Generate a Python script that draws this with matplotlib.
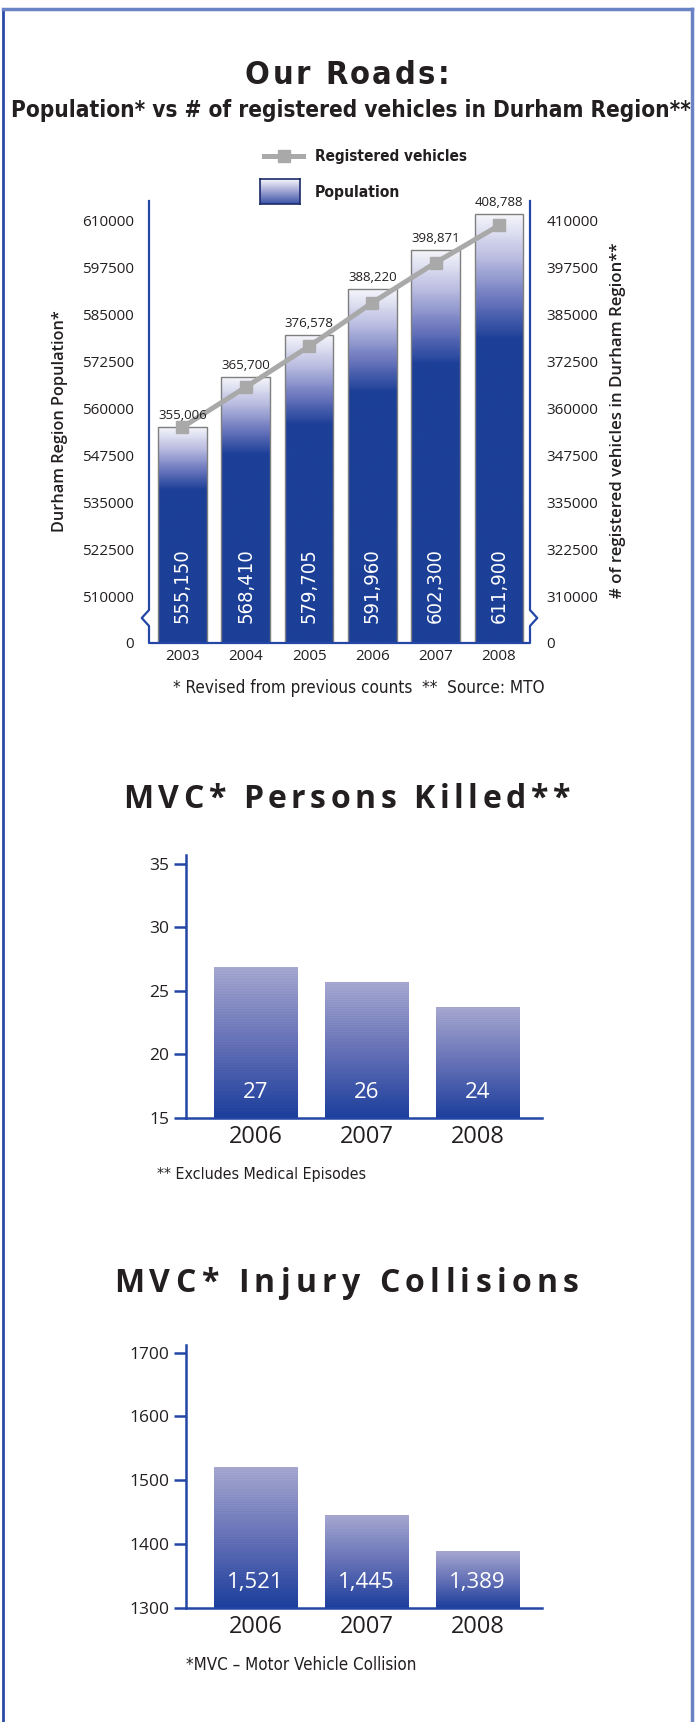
import numpy as np
import matplotlib
matplotlib.use('Agg')
import matplotlib.pyplot as plt
from matplotlib import font_manager as fm
from matplotlib.colors import LinearSegmentedColormap
from matplotlib.lines import Line2D

# ---- data ----
years_pop = ['2003', '2004', '2005', '2006', '2007', '2008']
population = [555150, 568410, 579705, 591960, 602300, 611900]
vehicles = [355006, 365700, 376578, 388220, 398871, 408788]
pop_ticks = [510000, 522500, 535000, 547500, 560000, 572500, 585000, 597500, 610000]
veh_ticks = [310000, 322500, 335000, 347500, 360000, 372500, 385000, 397500, 410000]

years_mvc = ['2006', '2007', '2008']
killed = [27, 26, 24]
killed_bar = [26.9, 25.7, 23.7]
killed_ticks = [15, 20, 25, 30, 35]
injury = [1521, 1445, 1389]
injury_ticks = [1300, 1400, 1500, 1600, 1700]

# ---- fonts ----
SANS = ['Open Sans', 'DejaVu Sans']
plt.rcParams['font.family'] = SANS


def pick_narrow():
    found = {}
    for f in fm.fontManager.ttflist:
        low = f.fname.lower()
        if 'narrow' in low or 'condensed' in low:
            found.setdefault(f.name, f.stretch)
    for name in ['Liberation Sans Narrow', 'DejaVu Sans', 'Roboto Condensed', 'Open Sans']:
        if name in found:
            return dict(family=[name, 'DejaVu Sans'], fontstretch=found[name])
    if found:
        name = sorted(found)[0]
        return dict(family=[name, 'DejaVu Sans'], fontstretch=found[name])
    return dict(family=['Roboto', 'DejaVu Sans'])


NARROW = pick_narrow()

BLUE = '#2446a6'
DARK = '#231f20'
BAR_BLUE = '#1c3f97'
GREY = '#a9a9a9'

W, H = 699, 1722
fig = plt.figure(figsize=(W / 100, H / 100), dpi=100)
R = fig.canvas.get_renderer()


def fx(x):
    return x / W


def fy(y):
    return 1 - y / H


def width_px(s, **kw):
    t = fig.text(0, 0, s, **kw)
    w = t.get_window_extent(renderer=R).width
    t.remove()
    return w


def fit_size(s, target, **kw):
    return 10 * target / width_px(s, fontsize=10, **kw)


def fit_text(s, x0, x1, yc, ha='center', **kw):
    fs = fit_size(s, x1 - x0, **kw)
    x = (x0 + x1) / 2 if ha == 'center' else x0
    fig.text(fx(x), fy(yc), s, fontsize=fs, ha=ha, va='center', color=DARK, **kw)


def vtext(s, length, xc, yc, **kw):
    fs = fit_size(s, length, **kw)
    fig.text(fx(xc), fy(yc), s, fontsize=fs, ha='center', va='center', rotation=90,
             color=DARK, **kw)


def tracked_text(s, x0, x1, ybase, fontsize, min_track=2.0, **kw):
    while True:
        base = width_px('HH', fontsize=fontsize, **kw)
        adv = [width_px('H' + c + 'H', fontsize=fontsize, **kw) - base for c in s]
        track = (x1 - x0 - sum(adv)) / (len(s) - 1)
        if track >= min_track:
            break
        fontsize *= 0.97
    x = x0
    for c, a in zip(s, adv):
        if c != ' ':
            fig.text(fx(x), fy(ybase), c, ha='left', va='baseline', color=DARK,
                     fontsize=fontsize, **kw)
        x += a + track


def gradient_bars(ax, xs, tops, bottom, width, cmap, stripes=False):
    for x, top in zip(xs, tops):
        n = 120
        rgb = cmap(np.linspace(0, 1, n))[:, :3]
        if stripes:
            rgb[::2] *= 0.955
        im = ax.imshow(rgb[:, None, :], extent=(x - width / 2, x + width / 2, bottom, top),
                       origin='upper', aspect='auto', interpolation='bilinear', zorder=2)
        patch = ax.bar(x, top - bottom, width, bottom=bottom, facecolor='none',
                       edgecolor='none', zorder=3)[0]
        im.set_clip_path(patch)


# ---- outer frame ----
fig.add_artist(Line2D([fx(2.5), fx(2.5)], [fy(9), 0], color='#2a4aa8', lw=2))
fig.add_artist(Line2D([fx(2.5), fx(692)], [fy(9), fy(9)], color='#6a83c4', lw=2.5))
fig.add_artist(Line2D([fx(692), fx(692)], [fy(9), 0], color='#6a83c4', lw=2.5))

# ---- chart 1: population vs vehicles ----
tracked_text('Our Roads:', 245, 449, 84, 28, fontweight='bold', **NARROW)
fit_text('Population* vs # of registered vehicles in Durham Region**', 12, 689, 111,
         fontweight='bold', **NARROW)

ax1 = fig.add_axes([fx(149), fy(643), 381 / W, 442 / H])
x1 = np.arange(len(years_pop))
y_lo, y_hi = 497500, 615300
pop_cmap = LinearSegmentedColormap.from_list(
    'pop', [(0, '#f5f5fb'), (0.1, '#b9bce0'), (0.2, '#6a76bd'), (0.29, BAR_BLUE), (1, BAR_BLUE)])
gradient_bars(ax1, x1, population, y_lo, 0.77, pop_cmap)
ax1.bar(x1, np.array(population) - y_lo, 0.77, bottom=y_lo, facecolor='none',
        edgecolor='#7f7f7f', lw=1.0, zorder=4)
ax1.set_xlim(-0.529, 5.49)
ax1.set_ylim(y_lo, y_hi)
ax1.set_yticks([y_lo] + pop_ticks, ['0'] + [str(t) for t in pop_ticks])
ax1.set_xticks(x1, years_pop)
ax1.tick_params(length=0, labelsize=11, labelcolor=DARK)
ax1.tick_params(axis='y', pad=11)
ax1.tick_params(axis='x', pad=4)
for s in ax1.spines.values():
    s.set_visible(False)

ax1r = ax1.twinx()
ax1r.set_ylim(y_lo - 200000, y_hi - 200000)
ax1r.plot(x1, vehicles, color=GREY, lw=3.6, marker='s', ms=9, zorder=5)
ax1r.set_yticks([y_lo - 200000] + veh_ticks, ['0'] + [str(t) for t in veh_ticks])
ax1r.tick_params(length=0, labelsize=11, labelcolor=DARK, pad=12)
for s in ax1r.spines.values():
    s.set_visible(False)

inbar_fs = fit_size('555,150', 75, **NARROW)
for x, p, v in zip(x1, population, vehicles):
    ax1r.annotate(f'{v:,}', (x, p), xycoords=ax1.transData, xytext=(0, 3.5),
                  textcoords='offset points', ha='center', va='bottom', fontsize=9.5,
                  color=DARK, zorder=6)
    ax1.annotate(f'{p:,}', (x, y_lo), xytext=(0, 14.4), textcoords='offset points',
                 ha='center', va='bottom', rotation=90, fontsize=inbar_fs, color='white',
                 zorder=6, **NARROW)

# spines with axis-break chevrons
yb, d, dx = 0.0566, 0.018, 0.019
kw_sp = dict(transform=ax1.transAxes, color=BLUE, lw=1.6, clip_on=False, zorder=7)
ax1.add_line(Line2D([0, 0, -dx, 0, 0, 1, 1, 1 + dx, 1, 1],
                    [1, yb + d, yb, yb - d, 0, 0, yb - d, yb, yb + d, 1], **kw_sp))

vtext('Durham Region Population*', 222, 60, 421, fontweight='semibold')
vtext('# of registered vehicles in Durham Region**', 354, 618, 420, fontweight='semibold')
fit_text('* Revised from previous counts  **  Source: MTO', 173, 545, 688, **NARROW)

# legend
fig.add_artist(Line2D([fx(264), fx(303)], [fy(156), fy(156)], color=GREY, lw=3.6))
fig.add_artist(Line2D([fx(284)], [fy(156)], color=GREY, marker='s', ms=9))
fit_text('Registered vehicles', 315, 467, 156, ha='left', fontweight='bold', **NARROW)
fit_text('Population', 315, 400, 192, ha='left', fontweight='bold', **NARROW)
lax = fig.add_axes([fx(260), fy(204), 40 / W, 25 / H])
leg_cmap = LinearSegmentedColormap.from_list('leg', ['#f5f5fb', '#9da2d2', '#3c55a8'])
lax.imshow(leg_cmap(np.linspace(0, 1, 50))[:, None, :3], aspect='auto',
           extent=(0, 1, 0, 1), origin='upper')
lax.set_xticks([])
lax.set_yticks([])
for s in lax.spines.values():
    s.set_color('#1b2a6b')
    s.set_linewidth(1.2)

# ---- charts 2 and 3 ----
mvc_cmap = LinearSegmentedColormap.from_list('mvc', ['#a9abd5', '#6874bb', '#1d40a0'])


def mvc_chart(ypx_bottom, heights, labels, ticks, ylim, fmt):
    ax = fig.add_axes([fx(186), fy(ypx_bottom), 356 / W, 263 / H])
    xs = np.arange(len(years_mvc))
    gradient_bars(ax, xs, heights, ylim[0], 0.75, mvc_cmap, stripes=True)
    ax.set_xlim(-0.626, 2.58)
    ax.set_ylim(*ylim)
    ax.set_yticks(ticks)
    ax.set_xticks(xs, years_mvc)
    for s in ['top', 'right']:
        ax.spines[s].set_visible(False)
    for s in ['left', 'bottom']:
        ax.spines[s].set_color(BLUE)
        ax.spines[s].set_linewidth(1.8)
        ax.spines[s].set_zorder(5)
    ax.tick_params(axis='y', direction='out', length=8.6, width=1.8, color=BLUE,
                   labelsize=12.5, labelcolor=DARK, pad=3.5)
    ax.tick_params(axis='x', length=0, labelsize=17, labelcolor=DARK, pad=5)
    for x, v in zip(xs, labels):
        ax.annotate(fmt(v), (x, ylim[0]), xytext=(0, 18.7), textcoords='offset points',
                    ha='center', va='center', fontsize=16, color='white', zorder=6)
    return ax


tracked_text('MVC* Persons Killed**', 123, 570, 808, 23, fontweight='bold')
mvc_chart(1118, killed_bar, killed, killed_ticks, (15, 35.7), str)
fit_text('** Excludes Medical Episodes', 157, 367, 1174, ha='left', **NARROW)

tracked_text('MVC* Injury Collisions', 114, 579, 1292, 23, fontweight='bold')
mvc_chart(1608, injury, injury, injury_ticks, (1300, 1712), lambda v: f'{v:,}')
fit_text('*MVC \u2013 Motor Vehicle Collision', 186, 417, 1665, ha='left', **NARROW)

fig.savefig('out.png', dpi=100)
